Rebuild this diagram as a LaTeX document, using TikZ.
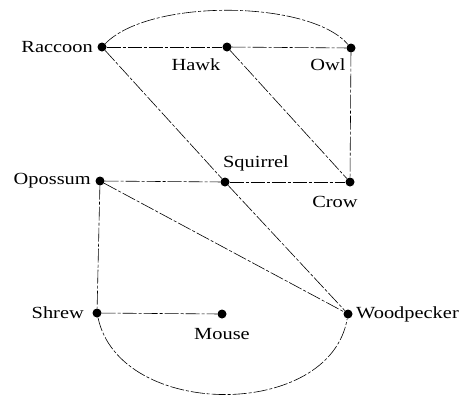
\documentclass[tikz,border=0pt]{standalone}
\usepackage{fontspec}
\setmainfont{Liberation Serif}[FakeStretch=1.2]
\begin{document}
\begin{tikzpicture}[x=1pt,y=-1pt,
  dot/.style={circle,fill=black,inner sep=0pt,minimum size=9pt},
  lbl/.style={font=\fontsize{17}{17}\selectfont,inner sep=0pt},
  edge/.style={draw=black,line width=0.6pt,dash pattern=on 14pt off 2pt on 3pt off 2pt}]
\useasboundingbox (0,0) rectangle (462,400);
\node[dot] (rac) at (102,47) {};
\node[dot] (haw) at (227,47) {};
\node[dot] (owl) at (351,48) {};
\node[dot] (opo) at (100,181) {};
\node[dot] (squ) at (225,182) {};
\node[dot] (cro) at (350,182) {};
\node[dot] (shr) at (97,313) {};
\node[dot] (mou) at (222,314) {};
\node[dot] (woo) at (348,314) {};
\node[lbl,anchor=east] (lrac) at (93,47) {Raccoon};
\node[lbl] (lhaw) at (196,65) {Hawk};
\node[lbl] (lowl) at (328,65) {Owl};
\node[lbl] (lsqu) at (256,163) {Squirrel};
\node[lbl,anchor=east] (lopo) at (91,181) {Opossum};
\node[lbl] (lcro) at (335,202) {Crow};
\node[lbl,anchor=east] (lshr) at (84,313) {Shrew};
\node[lbl] (lmou) at (222,334) {Mouse};
\node[lbl,anchor=west] (lwoo) at (356,314) {Woodpecker};
\draw[edge] (rac) .. controls (150,-2) and (310,0) .. (owl);
\draw[edge] (rac) -- (haw);
\draw[edge] (haw) -- (owl);
\draw[edge] (rac) -- (squ);
\draw[edge] (haw) -- (cro);
\draw[edge] (owl) -- (cro);
\draw[edge] (opo) -- (squ);
\draw[edge] (squ) -- (cro);
\draw[edge] (opo) -- (woo);
\draw[edge] (squ) -- (woo);
\draw[edge] (opo) -- (shr);
\draw[edge] (shr) -- (mou);
\draw[edge] (shr) .. controls (120,420) and (330,420) .. (woo);
\end{tikzpicture}
\end{document}
